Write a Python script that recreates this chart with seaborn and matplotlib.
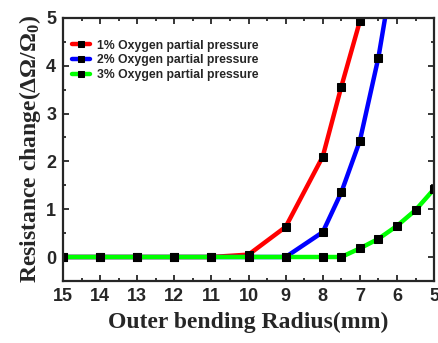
import matplotlib
matplotlib.use('Agg')
import matplotlib.pyplot as plt
import seaborn as sns
from matplotlib.ticker import MultipleLocator

# data
radius_1 = [15, 14, 13, 12, 11, 10, 9, 8, 7.5, 7]
change_1 = [0, 0, 0, 0, 0, 0.05, 0.63, 2.10, 3.56, 4.93]
radius_2 = [15, 14, 13, 12, 11, 10, 9, 8, 7.5, 7, 6.5, 6]
change_2 = [0, 0, 0, 0, 0, 0, 0, 0.52, 1.35, 2.43, 4.17, 6.47]
radius_3 = [15, 14, 13, 12, 11, 10, 9, 8, 7.5, 7, 6.5, 6, 5.5, 5]
change_3 = [0, 0, 0, 0, 0, 0, 0, 0, 0, 0.18, 0.38, 0.65, 0.98, 1.42]
labels = ["1% Oxygen partial pressure", "2% Oxygen partial pressure",
          "3% Oxygen partial pressure"]
colors = ["#FF0000", "#0000FF", "#00FF00"]

sns.set_style("ticks")
plt.rcParams['font.family'] = ['Liberation Sans', 'DejaVu Sans']
plt.rcParams['mathtext.fontset'] = 'custom'
plt.rcParams['mathtext.rm'] = 'Liberation Serif:bold'
plt.rcParams['mathtext.default'] = 'rm'

fig = plt.figure(figsize=(4.38, 3.43), dpi=100)
ax = fig.add_axes([0.144, 0.181, 0.847, 0.767])

series = [(radius_1, change_1), (radius_2, change_2), (radius_3, change_3)]
for (xs, ys), lab, c in zip(series, labels, colors):
    sns.lineplot(x=xs, y=ys, ax=ax, color=c, label=lab, linewidth=3.2,
                 marker='s', markersize=6, markerfacecolor='k',
                 markeredgecolor='k', sort=False)

ax.set_xlim(15, 5)
ax.set_ylim(-0.5, 5)
ax.xaxis.set_major_locator(MultipleLocator(1))
ax.xaxis.set_minor_locator(MultipleLocator(0.5))
ax.yaxis.set_major_locator(MultipleLocator(1))
ax.yaxis.set_minor_locator(MultipleLocator(0.5))
ax.tick_params(which='both', direction='in', top=True, right=True, width=1.3)
ax.tick_params(which='major', length=4, labelsize=13, pad=5)
ax.tick_params(which='minor', length=2.5)
for t in ax.get_xticklabels() + ax.get_yticklabels():
    t.set_fontweight('bold')
for s in ax.spines.values():
    s.set_linewidth(1.6)

ax.set_xlabel("Outer bending Radius(mm)", family='Liberation Serif',
              fontweight='bold', fontsize=17, labelpad=5)
ax.set_ylabel("Resistance change(ΔΩ/Ω$_0$)", family='Liberation Serif',
              fontweight='bold', fontsize=17, labelpad=2)

leg = ax.legend(loc='upper left', frameon=False, handlelength=1.5,
                handletextpad=0.6, labelspacing=0.22, borderaxespad=0.3,
                markerscale=0.75, prop={'size': 8.8, 'weight': 'bold'},
                bbox_to_anchor=(0.0, 0.95))

plt.savefig("out.png", dpi=100)
